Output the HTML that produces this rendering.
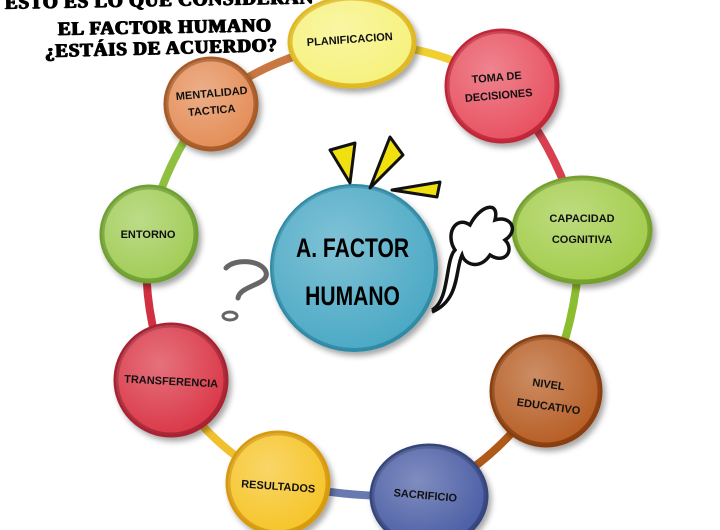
<!DOCTYPE html>
<html><head><meta charset="utf-8"><style>
body{margin:0;width:720px;height:530px;overflow:hidden;background:#fff;position:relative;font-family:"Liberation Sans",sans-serif}
.t{position:absolute;font-family:"Liberation Serif",serif;font-weight:900;font-size:19px;color:#000;white-space:nowrap;letter-spacing:0.8px;text-shadow:0.8px 0 #000,-0.8px 0 #000,0 0.6px #000}
</style></head><body>
<svg width="720" height="530" style="position:absolute;left:0;top:0">
<defs>
<radialGradient id="g" cx="40%" cy="35%" r="70%"><stop offset="0" stop-color="#fff" stop-opacity=".3"/><stop offset="1" stop-color="#fff" stop-opacity="0"/></radialGradient>
<filter id="s" x="-20%" y="-20%" width="150%" height="150%"><feDropShadow dx="3" dy="4" stdDeviation="3" flood-opacity=".35"/></filter>
</defs>
<g stroke-width="8" stroke-linecap="round" fill="none">
<path d="M352,42 Q440,45 502,85" stroke="#f0d030"/>
<path d="M502,85 Q555,140 580,230" stroke="#d84050"/>
<path d="M580,230 Q580,320 545,390" stroke="#8cbc30"/>
<path d="M545,390 Q500,460 428,495" stroke="#b05a1a"/>
<path d="M428,495 Q350,500 278,482" stroke="#6878b0"/>
<path d="M278,482 Q205,445 170,380" stroke="#f0c030"/>
<path d="M170,380 Q140,310 148,233" stroke="#d03040"/>
<path d="M148,233 Q165,160 210,103" stroke="#90c040"/>
<path d="M210,103 Q270,55 352,42" stroke="#c87840"/>
</g>
<g filter="url(#s)">
<ellipse cx="352" cy="42" rx="62" ry="44" fill="#f6f27c" stroke="#e0b820" stroke-width="5"/>
<circle cx="502" cy="86" r="55" fill="#e8505e" stroke="#c02838" stroke-width="5"/>
<ellipse cx="582" cy="230" rx="68" ry="52" fill="#a2cc48" stroke="#74a02a" stroke-width="5"/>
<circle cx="546" cy="391" r="54" fill="#b65c20" stroke="#8a3e10" stroke-width="5"/>
<ellipse cx="429" cy="496" rx="57" ry="50" fill="#4a5ca4" stroke="#34447e" stroke-width="5"/>
<circle cx="278" cy="483" r="50" fill="#f6c428" stroke="#d89a10" stroke-width="5"/>
<circle cx="171" cy="380" r="55" fill="#da3444" stroke="#a82030" stroke-width="5"/>
<circle cx="149" cy="234" r="47" fill="#a0cc54" stroke="#70a030" stroke-width="5"/>
<circle cx="211" cy="104" r="45" fill="#e48c54" stroke="#a85a28" stroke-width="5"/>
<circle cx="354" cy="268" r="82" fill="#4aa8c4" stroke="#2e8aa6" stroke-width="4"/>
</g>
<g fill="url(#g)">
<ellipse cx="352" cy="42" rx="62" ry="44"/><circle cx="502" cy="86" r="55"/><ellipse cx="582" cy="230" rx="68" ry="52"/><circle cx="546" cy="391" r="54"/><ellipse cx="429" cy="496" rx="57" ry="50"/><circle cx="278" cy="483" r="50"/><circle cx="171" cy="380" r="55"/><circle cx="149" cy="234" r="47"/><circle cx="211" cy="104" r="45"/><circle cx="354" cy="268" r="82"/>
</g>
<g fill="#f0e010" stroke="#111" stroke-width="3" stroke-linejoin="round">
<polygon points="330,150 355,143 350,183"/>
<polygon points="390,137 403,155 370,188"/>
<polygon points="392,190 440,182 437,197"/>
</g>
<path d="M432,310 C450,300 445,260 455,250 C445,235 455,215 470,225 C480,205 500,200 495,220 C510,215 520,230 505,240 C515,250 505,265 490,255 C480,270 465,265 462,255 C455,270 460,300 432,312" fill="none" stroke="#111" stroke-width="3.5"/>
<g fill="none" stroke="#666" stroke-width="5" stroke-linecap="round">
<path d="M226,268 C235,258 262,260 266,272 C270,285 240,285 238,298"/>
</g>
<ellipse cx="230" cy="316" rx="7" ry="4" fill="none" stroke="#666" stroke-width="3"/>
<g font-family="Liberation Sans,sans-serif" font-size="11" font-weight="bold" text-anchor="middle" fill="#111">
<text x="350" y="43" transform="rotate(-4 350 43)">PLANIFICACION</text>
<text x="497" y="81" transform="rotate(-5 497 81)">TOMA DE</text>
<text x="499" y="99" transform="rotate(-5 499 99)">DECISIONES</text>
<text x="582" y="222">CAPACIDAD</text>
<text x="582" y="243">COGNITIVA</text>
<text x="548" y="388" transform="rotate(8 548 388)">NIVEL</text>
<text x="548" y="410" transform="rotate(8 548 410)">EDUCATIVO</text>
<text x="425" y="499" transform="rotate(5 425 499)">SACRIFICIO</text>
<text x="278" y="490" transform="rotate(4 278 490)">RESULTADOS</text>
<text x="171" y="385" transform="rotate(3 171 385)">TRANSFERENCIA</text>
<text x="148" y="238">ENTORNO</text>
<text x="212" y="97" transform="rotate(-5 212 97)">MENTALIDAD</text>
<text x="212" y="114" transform="rotate(-5 212 114)">TACTICA</text>
</g>
<g font-family="Liberation Sans,sans-serif" font-size="27" font-weight="bold" text-anchor="middle" fill="#000" transform="scale(0.78 1)">
<text x="452" y="257">A. FACTOR</text>
<text x="452" y="305">HUMANO</text>
</g>
</svg>
<div class="t" style="left:5px;top:-10px;transform:rotate(-1deg)">ESTO ES LO QUE CONSIDERAN</div>
<div class="t" style="left:58px;top:17px;transform:rotate(-1deg)">EL FACTOR HUMANO</div>
<div class="t" style="left:45px;top:38px;transform:rotate(-1.5deg)">¿ESTÁIS DE ACUERDO?</div>
</body></html>
